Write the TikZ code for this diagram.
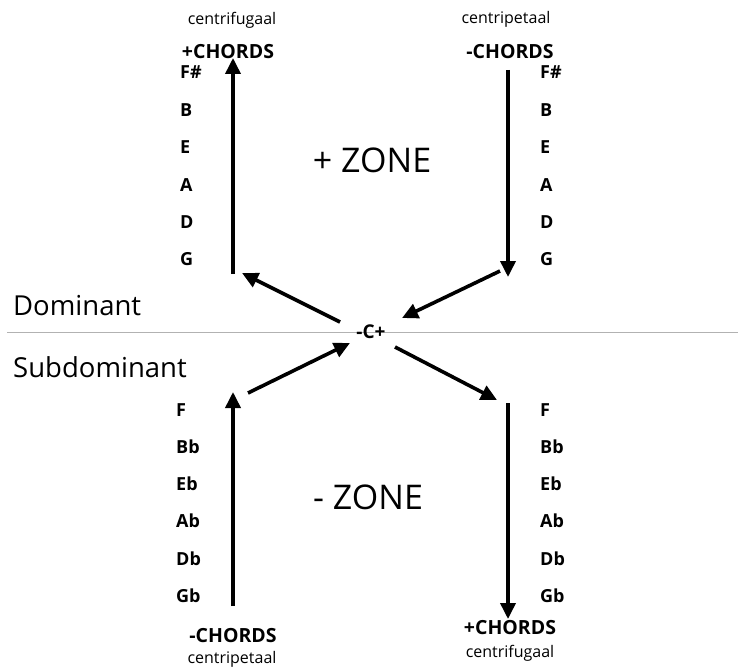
\documentclass[tikz,border=0pt]{standalone}
\usepackage{fontspec}
\setmainfont{Open Sans}
\usetikzlibrary{arrows.meta}
\tikzset{
  note/.style={font=\fontsize{16}{18}\selectfont},
  chords/.style={font=\fontsize{19.5}{22}\selectfont\bfseries},
  chord/.style={font=\fontsize{18}{20}\selectfont\bfseries, anchor=west, inner sep=0pt},
  zone/.style={font=\fontsize{34}{38}\selectfont},
  side/.style={font=\fontsize{27.5}{31}\selectfont, anchor=west, inner sep=0pt},
  flow/.style={line width=3.6pt, -{Triangle[length=16pt,width=15pt]}},
}
\begin{document}
\begin{tikzpicture}[x=1pt,y=-1pt]
\useasboundingbox (0,0) rectangle (738,668);
% divider between dominant and subdominant
\draw[gray!60, line width=0.8pt] (7,332) -- (738,332);
\node[side] (dom) at (13,306) {Dominant};
\node[side] (sub) at (13,367) {Subdominant};
\node[font=\fontsize{19}{21}\selectfont\bfseries, inner sep=0pt] (c) at (371,332) {-C+};
% upper zone
\node[note] (tlnote) at (232,20) {centrifugaal};
\node[chords] (tlch) at (228,52) {+CHORDS};
\node[note] (trnote) at (506,19) {centripetaal};
\node[chords] (trch) at (510,52) {-CHORDS};
\node[zone] (pz) at (372,160) {+ ZONE};
\foreach \n/\y in {F\#/72, B/110, E/147, A/185, D/222, G/259}{
  \node[chord] at (180,\y) {\n};
  \node[chord] at (540,\y) {\n};
}
% lower zone
\node[zone] (mz) at (368,497) {- ZONE};
\foreach \n/\y in {F/410, Bb/447, Eb/484, Ab/521, Db/559, Gb/596}{
  \node[chord] at (176,\y) {\n};
  \node[chord] at (540,\y) {\n};
}
\node[chords] (blch) at (233,636) {-CHORDS};
\node[note] (blnote) at (232,659) {centripetaal};
\node[chords] (brch) at (510,628) {+CHORDS};
\node[note] (brnote) at (510,653) {centrifugaal};
% arrow end points
\coordinate (a1) at (233,274);
\coordinate (a2) at (233,58);
\coordinate (b1) at (508,70);
\coordinate (b2) at (508,277);
\coordinate (c1) at (233,606);
\coordinate (c2) at (233,392);
\coordinate (d1) at (508,403);
\coordinate (d2) at (508,619);
\coordinate (e1) at (340,322);
\coordinate (e2) at (242,273);
\coordinate (f1) at (500,271);
\coordinate (f2) at (402,318);
\coordinate (g1) at (248,393);
\coordinate (g2) at (350,343);
\coordinate (h1) at (395,347);
\coordinate (h2) at (497,400);
\draw[flow] (a1) -- (a2);
\draw[flow] (b1) -- (b2);
\draw[flow] (c1) -- (c2);
\draw[flow] (d1) -- (d2);
\draw[flow] (e1) -- (e2);
\draw[flow] (f1) -- (f2);
\draw[flow] (g1) -- (g2);
\draw[flow] (h1) -- (h2);
\end{tikzpicture}
\end{document}
